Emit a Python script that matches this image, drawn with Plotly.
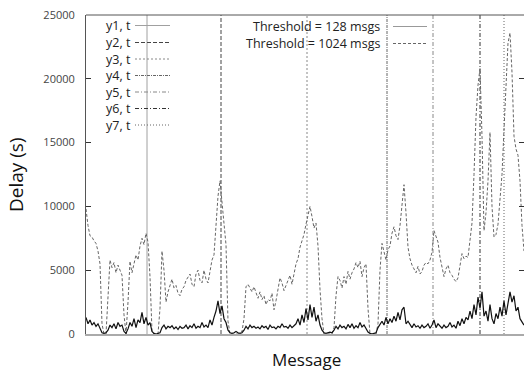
import plotly.graph_objects as go

# ---------------- data ----------------
# sample index every 10 messages
messages = list(range(0, 2200, 10))

delay_thr128 = [
    1300, 800, 1100, 700, 900, 600, 800, 400, 100, 50,
    100, 300, 700, 500, 800, 400, 900, 600, 700, 200,
    50, 400, 900, 600, 1200, 500, 1100, 900, 1700, 800,
    1300, 700, 900, 200, 50, 0, 50, 100, 500, 700,
    400, 600, 500, 650, 400, 550, 350, 600, 450, 500,
    700, 400, 650, 500, 800, 450, 600, 500, 900, 550,
    700, 500, 1100, 700, 1300, 1800, 2600, 1600, 2200, 1200,
    900, 300, 100, 50, 100, 200, 100, 50, 100, 300,
    600, 400, 700, 500, 600, 450, 550, 400, 650, 500,
    600, 350, 700, 500, 550, 400, 600, 500, 800, 550,
    600, 450, 700, 500, 650, 800, 1200, 700, 1500, 900,
    2000, 1100, 2300, 1300, 2100, 1000, 1500, 700, 300, 100,
    50, 100, 150, 100, 300, 600, 400, 700, 500, 600,
    400, 750, 500, 800, 450, 650, 500, 900, 550, 700,
    400, 150, 50, 0, 50, 100, 500, 800, 1000, 700,
    1300, 800, 1200, 900, 1400, 1000, 1700, 1100, 1900, 2100,
    800, 1000, 700, 500, 800, 550, 650, 450, 700, 500,
    600, 800, 450, 700, 1100, 500, 800, 600, 450, 700,
    500, 600, 900, 550, 700, 450, 1000, 650, 1200, 800,
    1300, 1100, 1800, 1200, 2300, 1500, 2900, 2000, 3300, 1400,
    1800, 1000, 2300, 1200, 800, 1600, 1200, 2100, 1400, 2600,
    1500, 2400, 3300, 2500, 3000, 1800, 2100, 1200, 900, 700,
]

delay_thr1024 = [
    9800, 8500, 7700, 7600, 7300, 7100, 6500, 5500, 800, 0,
    0, 3500, 5800, 5200, 5600, 4800, 5400, 5000, 4600, 1500,
    0, 2500, 5700, 4800, 5500, 6200, 5800, 6900, 7500, 7000,
    7900, 7200, 4500, 200, 0, 0, 0, 2000, 6500, 5000,
    2500, 3300, 3900, 4300, 3600, 3800, 3200, 3000, 3500, 3700,
    4200, 4500, 4700, 3900, 3700, 4700, 5000, 4200, 4000, 5000,
    4300, 4000, 4900, 5800, 6200, 8200, 10800, 12000, 10200, 8500,
    7000, 1000, 0, 0, 0, 0, 0, 100, 200, 1200,
    3700, 3900, 3600, 3300, 3700, 3200, 2800, 3300, 2700, 3000,
    2300, 2700, 2600, 3200, 1900, 2600, 3500, 4400, 4000, 3400,
    3800, 4200, 4600, 3900, 4700, 5500, 5900, 6800, 7300, 7800,
    8600, 9400, 10000, 9200, 8300, 8700, 6900, 3500, 1200, 0,
    0, 0, 0, 0, 500, 3000, 4500, 4200, 3600, 4500,
    3900, 4900, 4300, 4800, 5100, 5600, 5200, 5700, 4500, 5200,
    5500, 2000, 0, 0, 0, 0, 800, 5000, 7100, 6500,
    5800, 6600, 6900, 7900, 8400, 7700, 7400, 8500, 10200, 11700,
    9500, 6800, 5900, 5400, 5100, 4800, 5300, 4700, 4900, 5400,
    5600, 5500, 5800, 6400, 8100, 7600, 7200, 6000, 5200, 4500,
    5100, 5400, 4800, 4600, 4300, 4100, 4400, 5200, 6300, 5900,
    6100, 6000, 7500, 8700, 12500, 17000, 19500, 20800, 15500, 8100,
    9500, 12000, 15800, 10000, 7600, 7800, 8600, 10500, 12500, 16000,
    19500, 22800, 23600, 20500, 15500, 14500, 14000, 12000, 8500, 6500,
]

event_names = ["y1, t", "y2, t", "y3, t", "y4, t", "y5, t", "y6, t", "y7, t"]
event_times = [305, 675, 1105, 1505, 1735, 1970, 2090]

series_names = ["Threshold = 128 msgs", "Threshold = 1024 msgs"]
y_ticks = [0, 5000, 10000, 15000, 20000, 25000]
y_tick_labels = ["0", "5000", "10000", "15000", "20000", "25000"]

# ---------------- styles ----------------
W, H = 524, 371
L, T, B, R = 86, 15, 37, 0
PW, PH = W - L - R, H - T - B

def px(xp):
    return (xp - L) / PW

def py(yp):
    return (H - B - yp) / PH

event_styles = [
    dict(color="#a0a0a0", dash="solid"),
    dict(color="#444444", dash="4px,2px"),
    dict(color="#888888", dash="2px,2px"),
    dict(color="#666666", dash="3px,1px,1px,1px"),
    dict(color="#888888", dash="4px,2px,1px,2px"),
    dict(color="#333333", dash="4px,2px,1px,2px"),
    dict(color="#666666", dash="1px,2px"),
]
series_styles = [
    dict(color="#111111", width=1.2, dash="solid"),
    dict(color="#666666", width=1, dash="3px,2px"),
]
FONT = "Open Sans"

fig = go.Figure()

for t, st in zip(event_times, event_styles):
    fig.add_trace(go.Scatter(x=[t, t], y=[0, 25000], mode="lines",
                             line=dict(width=1, **st), showlegend=False,
                             hoverinfo="skip"))

fig.add_trace(go.Scatter(x=messages, y=delay_thr1024, mode="lines",
                         line=series_styles[1], name=series_names[1],
                         showlegend=False))
fig.add_trace(go.Scatter(x=messages, y=delay_thr128, mode="lines",
                         line=series_styles[0], name=series_names[0],
                         showlegend=False))

# invisible trace for right-side ticks
fig.add_trace(go.Scatter(x=[messages[0]], y=[0], yaxis="y2", mode="lines",
                         line=dict(width=0), showlegend=False, hoverinfo="skip"))

shapes = []
annotations = []

# top frame line
shapes.append(dict(type="line", xref="paper", yref="paper", x0=0, x1=1, y0=1, y1=1,
                   line=dict(color="#555555", width=1)))

# left legend (event markers)
ev_y = [25.5, 42.5, 59, 75.5, 92, 108.5, 125]
for name, st, yy in zip(event_names, event_styles, ev_y):
    annotations.append(dict(text=name, xref="paper", yref="paper", x=px(104), y=py(yy),
                            xanchor="left", yanchor="middle", showarrow=False,
                            font=dict(family=FONT, size=12.5, color="#222222")))
    shapes.append(dict(type="line", xref="paper", yref="paper", x0=px(135), x1=px(170),
                       y0=py(yy), y1=py(yy), line=dict(width=1, **st)))

# right legend (series)
sr_y = [26.5, 43.5]
for name, st, yy in zip(series_names, series_styles, sr_y):
    annotations.append(dict(text=name, xref="paper", yref="paper", x=px(382), y=py(yy),
                            xanchor="right", yanchor="middle", showarrow=False,
                            font=dict(family=FONT, size=12.5, color="#222222")))
    st2 = dict(st)
    st2["width"] = 1
    if st2["dash"] == "solid":
        st2["color"] = "#999999"
    shapes.append(dict(type="line", xref="paper", yref="paper", x0=px(393), x1=px(427),
                       y0=py(yy), y1=py(yy), line=st2))

# axis titles
annotations.append(dict(text="Delay (s)", xref="paper", yref="paper", x=px(16), y=py(175),
                        xanchor="center", yanchor="middle", textangle=-90, showarrow=False,
                        font=dict(family=FONT, size=19, color="#111111")))
annotations.append(dict(text="Message", xref="paper", yref="paper", x=px(306), y=py(359),
                        xanchor="center", yanchor="middle", showarrow=False,
                        font=dict(family=FONT, size=17, color="#111111")))

fig.update_layout(
    width=W, height=H,
    margin=dict(l=L, r=R, t=T, b=B, pad=0),
    plot_bgcolor="white", paper_bgcolor="white",
    showlegend=False,
    shapes=shapes, annotations=annotations,
    xaxis=dict(range=[0, 2190], showgrid=False, zeroline=False, showticklabels=False,
               ticks="", showline=True, linecolor="#aaaaaa", linewidth=2),
    yaxis=dict(range=[0, 25000], tickvals=y_ticks, ticktext=y_tick_labels,
               showgrid=False, zeroline=False,
               ticks="inside", ticklen=5, tickcolor="#333333", showline=True,
               linecolor="#555555", linewidth=1, ticklabelstandoff=8,
               tickfont=dict(family=FONT, size=11, color="#444444")),
    yaxis2=dict(range=[0, 25000], tickvals=y_ticks, overlaying="y", side="right",
                showgrid=False, zeroline=False, ticks="inside", ticklen=5,
                tickcolor="#333333", showticklabels=False, showline=False),
)

fig.write_html("out.html")
